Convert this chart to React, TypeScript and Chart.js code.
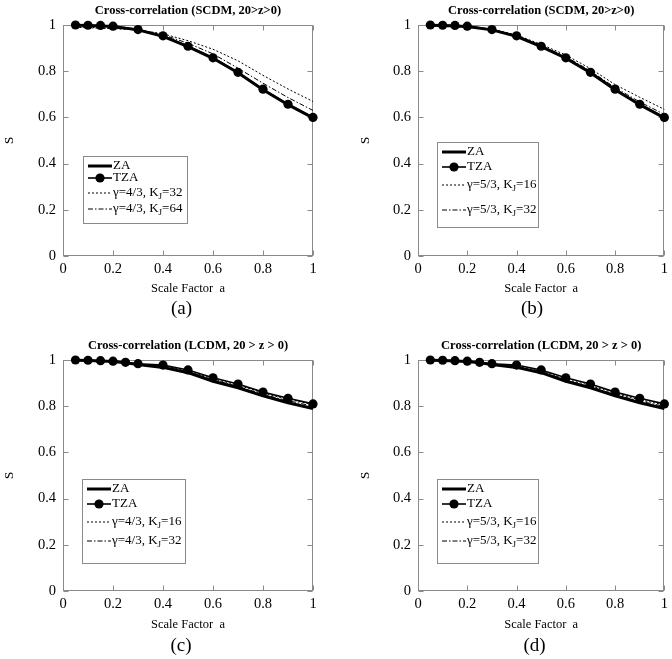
import React, { useEffect, useRef } from 'react';
import { Chart, registerables } from 'chart.js';

Chart.register(...registerables);

const FONT = '"Liberation Serif", "Times New Roman", serif';
Chart.defaults.font.family = FONT;
Chart.defaults.color = '#000';

// ---------- data ----------
const scdmA = [0.05, 0.1, 0.15, 0.2, 0.3, 0.4, 0.5, 0.6, 0.7, 0.8, 0.9, 1.0];
const scdmZA = [0.999, 0.998, 0.996, 0.993, 0.979, 0.951, 0.906, 0.856, 0.793, 0.72, 0.655, 0.598];
const scdmTZA = [1.0, 0.999, 0.998, 0.995, 0.98, 0.953, 0.908, 0.858, 0.795, 0.722, 0.657, 0.6];
const scdmG43K32 = [0.99, 0.988, 0.986, 0.984, 0.979, 0.962, 0.932, 0.895, 0.845, 0.782, 0.723, 0.669];
const scdmG43K64 = [0.992, 0.99, 0.988, 0.986, 0.98, 0.958, 0.921, 0.875, 0.813, 0.748, 0.686, 0.63];
const scdmG53K16 = [0.995, 0.994, 0.992, 0.99, 0.981, 0.957, 0.916, 0.87, 0.811, 0.742, 0.687, 0.635];
const scdmG53K32 = [0.996, 0.995, 0.993, 0.991, 0.98, 0.955, 0.911, 0.863, 0.801, 0.729, 0.667, 0.613];

const lcdmA = [0.05, 0.1, 0.15, 0.2, 0.25, 0.3, 0.4, 0.5, 0.6, 0.7, 0.8, 0.9, 1.0];
const lcdmZA = [0.999, 0.998, 0.996, 0.993, 0.988, 0.98, 0.968, 0.945, 0.908, 0.88, 0.845, 0.815, 0.79];
const lcdmTZA = [1.0, 0.999, 0.997, 0.995, 0.99, 0.984, 0.978, 0.957, 0.923, 0.896, 0.861, 0.834, 0.81];
const lcdmG43K16 = [0.999, 0.998, 0.996, 0.994, 0.989, 0.982, 0.975, 0.953, 0.918, 0.891, 0.857, 0.83, 0.807];
const lcdmG43K32 = [0.999, 0.998, 0.996, 0.994, 0.989, 0.981, 0.972, 0.95, 0.914, 0.886, 0.851, 0.824, 0.8];
const lcdmG53K16 = [0.999, 0.998, 0.996, 0.994, 0.989, 0.982, 0.974, 0.952, 0.917, 0.89, 0.855, 0.828, 0.805];
const lcdmG53K32 = [0.999, 0.998, 0.996, 0.994, 0.989, 0.981, 0.971, 0.949, 0.913, 0.885, 0.85, 0.822, 0.799];

const xTickLabels = ['0', '0.2', '0.4', '0.6', '0.8', '1'];
const yTickLabels = ['0', '0.2', '0.4', '0.6', '0.8', '1'];

const titleSCDM = 'Cross-correlation (SCDM, 20>z>0)';
const titleLCDM = 'Cross-correlation (LCDM, 20 > z > 0)';
const xTitle = 'Scale Factor  a';
const yTitle = 'S';

// ---------- styles ----------
const seriesStyles = [
  { borderWidth: 3, pointRadius: 0, borderDash: [] as number[] },
  { borderWidth: 1.6, pointRadius: 4.6, borderDash: [] as number[] },
  { borderWidth: 1, pointRadius: 0, borderDash: [2, 2] },
  { borderWidth: 1, pointRadius: 0, borderDash: [5, 2, 1.5, 2] },
];

const panels = [
  {
    key: 'a', title: titleSCDM, caption: '(a)', x: scdmA,
    series: [
      { label: 'ZA', data: scdmZA },
      { label: 'TZA', data: scdmTZA },
      { label: 'γ=4/3, K_J=32', data: scdmG43K32 },
      { label: 'γ=4/3, K_J=64', data: scdmG43K64 },
    ],
    left: 0, top: 0, width: 336, height: 330, yAxisWidth: 63, yTitlePad: 2.2, rightPad: 23,
    xAxisHeight: 40, captionX: 181.5, captionY: 308,
    legend: { x: 20, y: 131, w: 104, h: 67, rows: [10, 22, 37, 53] },
  },
  {
    key: 'b', title: titleSCDM, caption: '(b)', x: scdmA,
    series: [
      { label: 'ZA', data: scdmZA },
      { label: 'TZA', data: scdmTZA },
      { label: 'γ=5/3, K_J=16', data: scdmG53K16 },
      { label: 'γ=5/3, K_J=32', data: scdmG53K32 },
    ],
    left: 336, top: 0, width: 336, height: 330, yAxisWidth: 82, yTitlePad: 22.2, rightPad: 4,
    xAxisHeight: 40, captionX: 532, captionY: 308,
    legend: { x: 19, y: 117, w: 101, h: 85, rows: [10, 25, 43, 68] },
  },
  {
    key: 'c', title: titleLCDM, caption: '(c)', x: lcdmA,
    series: [
      { label: 'ZA', data: lcdmZA },
      { label: 'TZA', data: lcdmTZA },
      { label: 'γ=4/3, K_J=16', data: lcdmG43K16 },
      { label: 'γ=4/3, K_J=32', data: lcdmG43K32 },
    ],
    left: 0, top: 335, width: 336, height: 324, yAxisWidth: 63, yTitlePad: 2.2, rightPad: 23,
    xAxisHeight: 41, captionX: 181, captionY: 645,
    legend: { x: 19, y: 119, w: 103, h: 84, rows: [10, 25, 43, 62] },
  },
  {
    key: 'd', title: titleLCDM, caption: '(d)', x: lcdmA,
    series: [
      { label: 'ZA', data: lcdmZA },
      { label: 'TZA', data: lcdmTZA },
      { label: 'γ=5/3, K_J=16', data: lcdmG53K16 },
      { label: 'γ=5/3, K_J=32', data: lcdmG53K32 },
    ],
    left: 336, top: 335, width: 336, height: 324, yAxisWidth: 82, yTitlePad: 22.2, rightPad: 4,
    xAxisHeight: 41, captionX: 534.5, captionY: 645,
    legend: { x: 19, y: 119, w: 101, h: 84, rows: [10, 25, 43, 62] },
  },
];

const FRAME = '#8a8a8a';

const framePlugin = {
  id: 'paperFrame',
  beforeDatasetsDraw(chart: any) {
    const { ctx, chartArea: a, scales } = chart;
    const L = Math.round(a.left) + 0.5;
    const R = Math.round(a.right) - 0.5;
    const T = Math.round(a.top) + 0.5;
    const B = Math.round(a.bottom) - 0.5;
    ctx.save();
    ctx.strokeStyle = FRAME;
    ctx.lineWidth = 1;
    ctx.strokeRect(L, T, R - L, B - T);
    const tl = 5;
    ctx.beginPath();
    scales.x.ticks.forEach((t: any) => {
      const px = Math.round(scales.x.getPixelForValue(t.value)) + 0.5;
      ctx.moveTo(px, B); ctx.lineTo(px, B - tl);
      ctx.moveTo(px, T); ctx.lineTo(px, T + tl);
    });
    scales.y.ticks.forEach((t: any) => {
      const py = Math.round(scales.y.getPixelForValue(t.value)) + 0.5;
      ctx.moveTo(L, py); ctx.lineTo(L + tl, py);
      ctx.moveTo(R, py); ctx.lineTo(R - tl, py);
    });
    ctx.stroke();
    ctx.restore();
  },
};

const legendPlugin = {
  id: 'paperLegend',
  afterDatasetsDraw(chart: any, _args: any, opts: any) {
    const { ctx, chartArea } = chart;
    const box = opts.box;
    if (!box) return;
    const x0 = Math.round(chartArea.left + box.x);
    const y0 = Math.round(chartArea.top + box.y);
    ctx.save();
    ctx.fillStyle = '#fff';
    ctx.fillRect(x0, y0, box.w, box.h);
    ctx.strokeStyle = FRAME;
    ctx.lineWidth = 1;
    ctx.strokeRect(x0 + 0.5, y0 + 0.5, box.w, box.h);
    chart.data.datasets.forEach((ds: any, i: number) => {
      const ry = chartArea.top + box.rows[i] + box.y;
      ctx.beginPath();
      ctx.setLineDash(ds.borderDash || []);
      ctx.lineWidth = ds.borderWidth;
      ctx.strokeStyle = ds.borderColor;
      ctx.moveTo(x0 + 5, ry);
      ctx.lineTo(x0 + 29, ry);
      ctx.stroke();
      ctx.setLineDash([]);
      if (ds.pointRadius > 0) {
        ctx.beginPath();
        ctx.arc(x0 + 17, ry, ds.pointRadius, 0, Math.PI * 2);
        ctx.fillStyle = ds.pointBackgroundColor;
        ctx.fill();
      }
      ctx.fillStyle = '#000';
      ctx.textBaseline = 'middle';
      ctx.textAlign = 'left';
      const main = `13px ${FONT}`;
      const small = `9px ${FONT}`;
      ctx.font = main;
      const parts = String(ds.label).split('_');
      let tx = x0 + 30;
      ctx.fillText(parts[0], tx, ry);
      tx += ctx.measureText(parts[0]).width;
      if (parts.length > 1) {
        const sub = parts[1].charAt(0);
        const rest = parts[1].slice(1);
        ctx.font = small;
        ctx.fillText(sub, tx, ry + 4);
        tx += ctx.measureText(sub).width;
        ctx.font = main;
        ctx.fillText(rest, tx, ry);
      }
    });
    ctx.restore();
  },
};

function Panel({ p }: { p: (typeof panels)[number] }) {
  const ref = useRef<HTMLCanvasElement | null>(null);
  useEffect(() => {
    if (!ref.current) return;
    const datasets = p.series.map((s, i) => ({
      label: s.label,
      data: s.data.map((v, j) => ({ x: p.x[j], y: v })),
      borderColor: '#000',
      backgroundColor: '#000',
      pointBackgroundColor: '#000',
      pointBorderColor: '#000',
      pointBorderWidth: 0,
      borderWidth: seriesStyles[i].borderWidth,
      pointRadius: seriesStyles[i].pointRadius,
      borderDash: seriesStyles[i].borderDash,
      tension: 0,
      fill: false,
      clip: false as any,
    }));
    const bottomPad = p.height - 256 - p.xAxisHeight;
    const chart = new Chart(ref.current, {
      type: 'line',
      data: { datasets },
      plugins: [framePlugin, legendPlugin],
      options: {
        animation: false,
        responsive: false,
        devicePixelRatio: 1,
        events: [],
        layout: { padding: { left: 0, right: p.rightPad, top: 0, bottom: bottomPad } },
        plugins: {
          legend: { display: false },
          tooltip: { enabled: false },
          title: {
            display: true,
            text: p.title,
            fullSize: false,
            color: '#000',
            font: { family: FONT, size: 12.5, weight: 'bold' },
            padding: { top: 3, bottom: 7 },
          },
          paperLegend: { box: p.legend },
        } as any,
        scales: {
          x: {
            type: 'linear',
            min: 0,
            max: 1,
            grid: { display: false, drawTicks: false },
            border: { display: false },
            ticks: {
              stepSize: 0.2,
              padding: 4,
              maxRotation: 0,
              autoSkip: false,
              color: '#000',
              font: { family: FONT, size: 14.5 },
              callback: (_v: any, i: number) => xTickLabels[i],
            },
            title: {
              display: true,
              text: xTitle,
              color: '#000',
              font: { family: FONT, size: 12.5 },
              padding: { top: 0, bottom: 0 },
            },
            afterFit: (s: any) => { s.height = p.xAxisHeight; },
          },
          y: {
            type: 'linear',
            min: 0,
            max: 1,
            grid: { display: false, drawTicks: false },
            border: { display: false },
            ticks: {
              stepSize: 0.2,
              padding: 7,
              color: '#000',
              font: { family: FONT, size: 14.5 },
              callback: (_v: any, i: number) => yTickLabels[i],
            },
            title: {
              display: true,
              text: yTitle,
              color: '#000',
              font: { family: FONT, size: 13 },
              padding: { top: p.yTitlePad, bottom: 0 },
            },
            afterFit: (s: any) => { s.width = p.yAxisWidth; },
          },
        },
      } as any,
    });
    return () => chart.destroy();
  }, [p]);
  return (
    <canvas
      ref={ref}
      width={p.width}
      height={p.height}
      style={{ position: 'absolute', left: p.left, top: p.top, width: p.width, height: p.height }}
    />
  );
}

export default function App() {
  return (
    <div style={{ position: 'absolute', left: 0, top: 0, width: 672, height: 659, overflow: 'hidden', background: '#fff' }}>
      {panels.map((p) => (
        <Panel key={p.key} p={p} />
      ))}
      {panels.map((p) => (
        <div
          key={'cap' + p.key}
          style={{
            position: 'absolute',
            left: p.captionX - 40,
            top: p.captionY - 12,
            width: 80,
            height: 24,
            lineHeight: '24px',
            textAlign: 'center',
            fontFamily: FONT,
            fontSize: 19,
            color: '#000',
          }}
        >
          {p.caption}
        </div>
      ))}
    </div>
  );
}
